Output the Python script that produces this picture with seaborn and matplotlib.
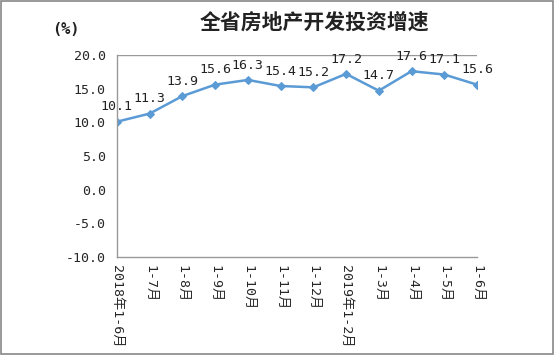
import matplotlib
matplotlib.use("Agg")
import matplotlib.pyplot as plt
import seaborn as sns
import pandas as pd

periods = ['2018年1-6月', '1-7月', '1-8月', '1-9月', '1-10月', '1-11月', '1-12月',
           '2019年1-2月', '1-3月', '1-4月', '1-5月', '1-6月']
growth = [10.1, 11.3, 13.9, 15.6, 16.3, 15.4, 15.2, 17.2, 14.7, 17.6, 17.1, 15.6]
yticks = [-10, -5, 0, 5, 10, 15, 20]

sns.set_style("white")
plt.rcParams['font.family'] = ['Noto Sans CJK SC', 'DejaVu Sans']
plt.rcParams['axes.unicode_minus'] = False
mono = ['DejaVu Sans Mono', 'Noto Sans CJK SC']

df = pd.DataFrame({'idx': range(len(periods)), 'growth': growth})

fig = plt.figure(figsize=(5.54, 3.55), dpi=100)
ax = fig.add_axes([0.211, 0.276, 0.65, 0.569])

line_color = '#5B9BD5'
sns.lineplot(data=df, x='idx', y='growth', ax=ax, color=line_color, linewidth=1.8,
             marker='D', markersize=4, markeredgecolor=line_color)

for i, v in enumerate(growth):
    ax.annotate(f'{v:.1f}', (i, v), xytext=(0, 6), textcoords='offset points',
                ha='center', va='bottom', fontsize=9.5, color='#222222', family=mono)

ax.set_xlim(0, len(periods) - 1)
ax.set_ylim(-10, 20)
ax.set_yticks(yticks)
ax.set_yticklabels([f'{t:.1f}' for t in yticks], fontsize=9.5, family=mono)
ax.set_xticks(range(len(periods)))
ax.set_xticklabels(periods, rotation=-90, fontsize=9.5, va='top', ha='center', family=mono)
ax.axhline(20, color='#999999', linewidth=1)

for side in ['top', 'right']:
    ax.spines[side].set_visible(False)
for side in ['left', 'bottom']:
    ax.spines[side].set_color('#999999')
    ax.spines[side].set_linewidth(1)
ax.tick_params(axis='both', direction='out', length=4, color='#999999', width=1, pad=2)
ax.tick_params(axis='y', pad=4)
ax.set_xlabel('')
ax.set_ylabel('')

fig.text(0.568, 0.937, '全省房地产开发投资增速', ha='center', va='center',
         fontsize=15, fontweight='bold', color='#222222')
fig.text(0.118, 0.918, '(%)', ha='center', va='center', fontsize=11,
         fontweight='bold', color='#222222', family=mono)

fig.patches.append(plt.Rectangle((0.001, 0.002), 0.997, 0.996, transform=fig.transFigure,
                                 fill=False, edgecolor='#888888', linewidth=1.2))

fig.savefig('out.png', dpi=100)
